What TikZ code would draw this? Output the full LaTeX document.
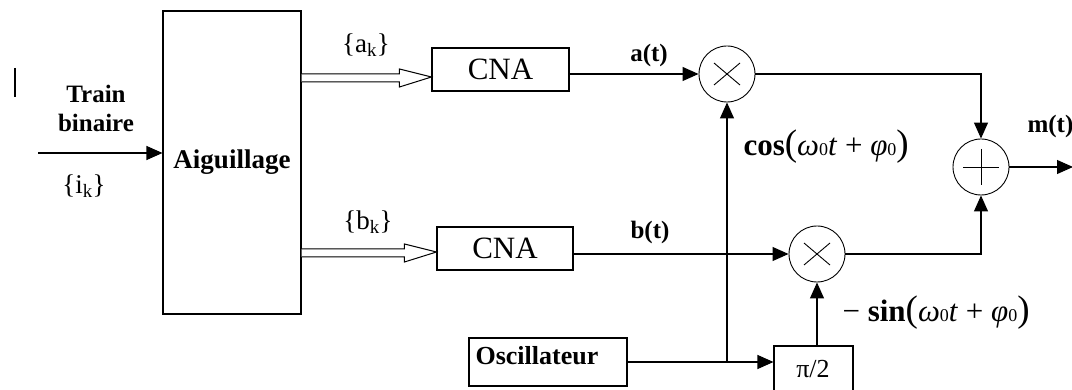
\documentclass[tikz,border=0pt]{standalone}
\usepackage{fontspec}
\setmainfont{Liberation Serif}
\usetikzlibrary{arrows.meta,calc}
\newcommand\fs[1]{\fontsize{#1}{#1}\selectfont}
\newcommand\sub[1]{{\fs{18}#1}}
\newcommand\bigp[1]{{\fs{37}#1}}
\begin{document}
\begin{tikzpicture}[x=1pt,y=-1pt,
  line width=1.1pt,
  arr/.style={-{Triangle[length=16pt,width=14pt]}},
  box/.style={draw,rectangle,inner sep=0pt},
  circ/.style={draw,circle,inner sep=0pt,minimum size=56pt,line width=0.9pt},
  lbl/.style={inner sep=0pt,font=\fs{27}},
  mlbl/.style={inner sep=0pt,font=\fs{31}},
  blbl/.style={inner sep=0pt,font=\fs{25}\bfseries}]
\useasboundingbox (0,0) rectangle (1072,390);
\clip (0,0) rectangle (1072,390);
% stray mark
\draw[line width=2.5pt] (15,68) -- (15,97);
% blocks
\node[box,minimum width=138pt,minimum height=303pt,font=\fs{27}\bfseries] (aig) at (232,162.5) {Aiguillage};
\node[box,minimum width=137pt,minimum height=43pt,font=\fs{31}] (cnaA) at (500.5,69.5) {CNA};
\node[box,minimum width=136pt,minimum height=43pt,font=\fs{31}] (cnaB) at (505,248.5) {CNA};
\node[box,minimum width=158pt,minimum height=48pt] (osc) at (548,362) {};
\node[inner sep=0pt,anchor=west,font=\fs{26}\bfseries] (osct) at (475,356) {Oscillateur};
\node[box,minimum width=79pt,minimum height=52pt] (pi) at (813.5,372) {};
\node[inner sep=0pt,font=\fs{26}] (pit) at (813,369) {π/2};
\node[circ] (m1) at (727,74) {};
\node[circ] (m2) at (817,254) {};
\node[circ] (add) at (981,167) {};
% symbols in circles
\draw[line width=0.9pt] ($(m1)+(-13,-11)$) -- ($(m1)+(13,11)$) ($(m1)+(-13,11)$) -- ($(m1)+(13,-11)$);
\draw[line width=0.9pt] ($(m2)+(-13,-11)$) -- ($(m2)+(13,11)$) ($(m2)+(-13,11)$) -- ($(m2)+(13,-11)$);
\draw[line width=0.9pt] ($(add)+(-18,0)$) -- ($(add)+(18,0)$) ($(add)+(0,-18)$) -- ($(add)+(0,18)$);
% labels
\node[blbl,align=center] (train) at (96,108) {Train\\[4pt]binaire};
\node[lbl] (ik) at (84,186) {\{i\textsubscript{k}\}};
\node[lbl] (ak) at (366,45) {\{a\textsubscript{k}\}};
\node[lbl] (bk) at (368,222) {\{b\textsubscript{k}\}};
\node[blbl] (at) at (649,55) {a(t)};
\node[blbl] (bt) at (650,232) {b(t)};
\node[blbl,anchor=west] (mt) at (1027,126) {m(t)};
\node[mlbl,anchor=west] (cosl) at (743,147) {\textbf{cos}\bigp{(}\textit{ω}\sub{0}\textit{t} + \textit{φ}\sub{0}\bigp{)}};
\node[mlbl,anchor=west] (sinl) at (842,313) {− \textbf{sin}\bigp{(}\textit{ω}\sub{0}\textit{t} + \textit{φ}\sub{0}\bigp{)}};
% input
\coordinate (in) at (38,153);
\draw[arr] (in) -- (aig.west |- in);
% double arrows
\foreach \c/\y in {cnaA/78,cnaB/253}{
  \coordinate (s) at (aig.east |- 0,\y);
  \coordinate (t) at (\c.west |- 0,\y);
  \draw[line width=1pt,fill=white] (s) ++(0,-4) -- ($(t)+(-32,-4)$) -- ($(t)+(-32,-9)$) -- ($(t)+(0,-1)$)
     -- ($(t)+(-32,9)$) -- ($(t)+(-32,4)$) -- ($(s)+(0,4)$);
}
% signals
\draw[arr] (cnaA.east |- m1) -- (m1.west);
\draw[arr] (cnaB.east |- m2) -- (m2.west);
\draw[arr] (m1.east) -- (add |- m1) -- (add.north);
\draw[arr] (m2.east) -- (add |- m2) -- (add.south);
\coordinate (out) at (1073,167);
\draw[arr] (add.east) -- (out);
\draw (osc.east) -- (m1 |- osc.east);
\draw[arr] (m1 |- osc.east) -- (pi.west |- osc.east);
\draw[arr] (m1 |- osc.east) -- (m1.south);
\draw[arr] (m2 |- pi.north) -- (m2.south);
\end{tikzpicture}
\end{document}
